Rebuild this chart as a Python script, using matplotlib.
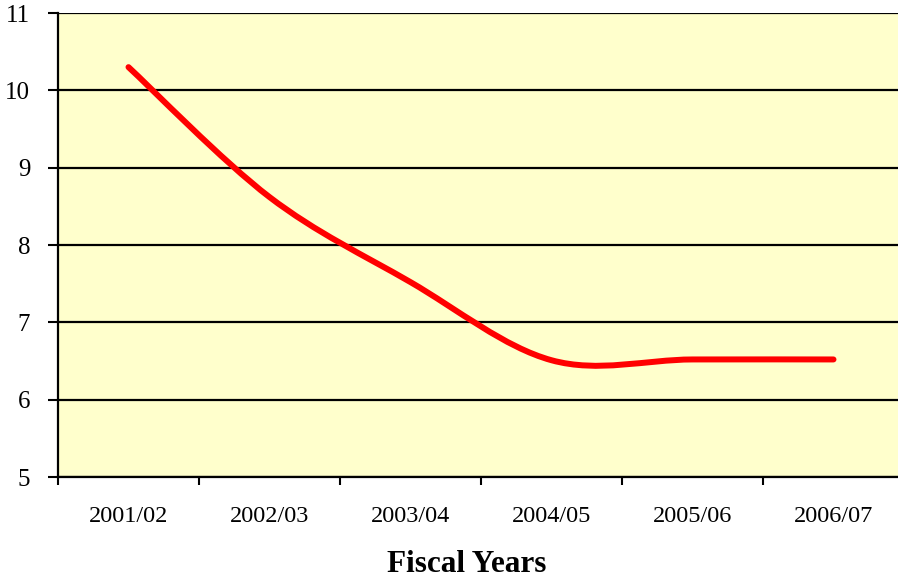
import matplotlib
matplotlib.use("Agg")
import matplotlib.pyplot as plt
from matplotlib.path import Path
from matplotlib.patches import PathPatch
import numpy as np

categories = ["2001/02", "2002/03", "2003/04", "2004/05", "2005/06", "2006/07"]
values = [10.3, 8.62, 7.52, 6.51, 6.52, 6.52]
y_ticks = [5, 6, 7, 8, 9, 10, 11]
x_label = "Fiscal Years"

plt.rcParams['font.family'] = ['Liberation Serif', 'DejaVu Serif']

fig = plt.figure(figsize=(8.98, 5.81), dpi=100)
W, H = 898, 581
left, right, top, bottom = 58, 904, 13, 477
ax = fig.add_axes([left / W, (H - bottom) / H, (right - left) / W, (bottom - top) / H])
ax.set_facecolor("#FFFFCC")

# Smoothed line (Excel-style cubic Bezier through the data points)
xs = np.arange(len(values), dtype=float)
ys = np.array(values, dtype=float)
pts = np.column_stack([xs, ys])
n = len(pts)
verts = [tuple(pts[0])]
codes = [Path.MOVETO]
for i in range(n - 1):
    p_prev = pts[i - 1] if i > 0 else pts[i]
    p0 = pts[i]
    p1 = pts[i + 1]
    p_next = pts[i + 2] if i + 2 < n else pts[i + 1]
    c1 = p0 + (p1 - p_prev) / 6.0
    c2 = p1 - (p_next - p0) / 6.0
    verts += [tuple(c1), tuple(c2), tuple(p1)]
    codes += [Path.CURVE4] * 3
path = Path(verts, codes)
patch = PathPatch(path, facecolor="none", edgecolor="#FF0000", linewidth=4.3,
                  capstyle="round", joinstyle="round", zorder=3)
ax.add_patch(patch)

ax.set_xlim(-0.5, len(categories) - 0.5)
ax.set_ylim(5, 11)

# x: ticks at boundaries, labels at centers
ax.set_xticks(np.arange(-0.5, len(categories) + 0.5, 1.0))
ax.set_xticklabels([])
ax.set_xticks(xs, minor=True)
ax.set_xticklabels(categories, minor=True, fontsize=17.5)
ax.tick_params(axis="x", which="major", direction="out", length=6, width=1.5, color="black")
ax.tick_params(axis="x", which="minor", length=0, pad=21)

ax.set_yticks(y_ticks)
ax.set_yticklabels([str(v) for v in y_ticks], fontsize=18)
ax.tick_params(axis="y", direction="out", length=7, width=1.5, pad=13)

ax.grid(axis="y", color="black", linewidth=1.6, zorder=1)
ax.set_axisbelow(True)
for s in ["top", "right"]:
    ax.spines[s].set_visible(False)
for s in ["left", "bottom"]:
    ax.spines[s].set_linewidth(1.6)
    ax.spines[s].set_color("black")

fig.text(467 / W, 1 - 565 / H, x_label, ha="center", va="center",
         fontsize=22.5, fontweight="bold")

fig.savefig("out.png", dpi=100)
